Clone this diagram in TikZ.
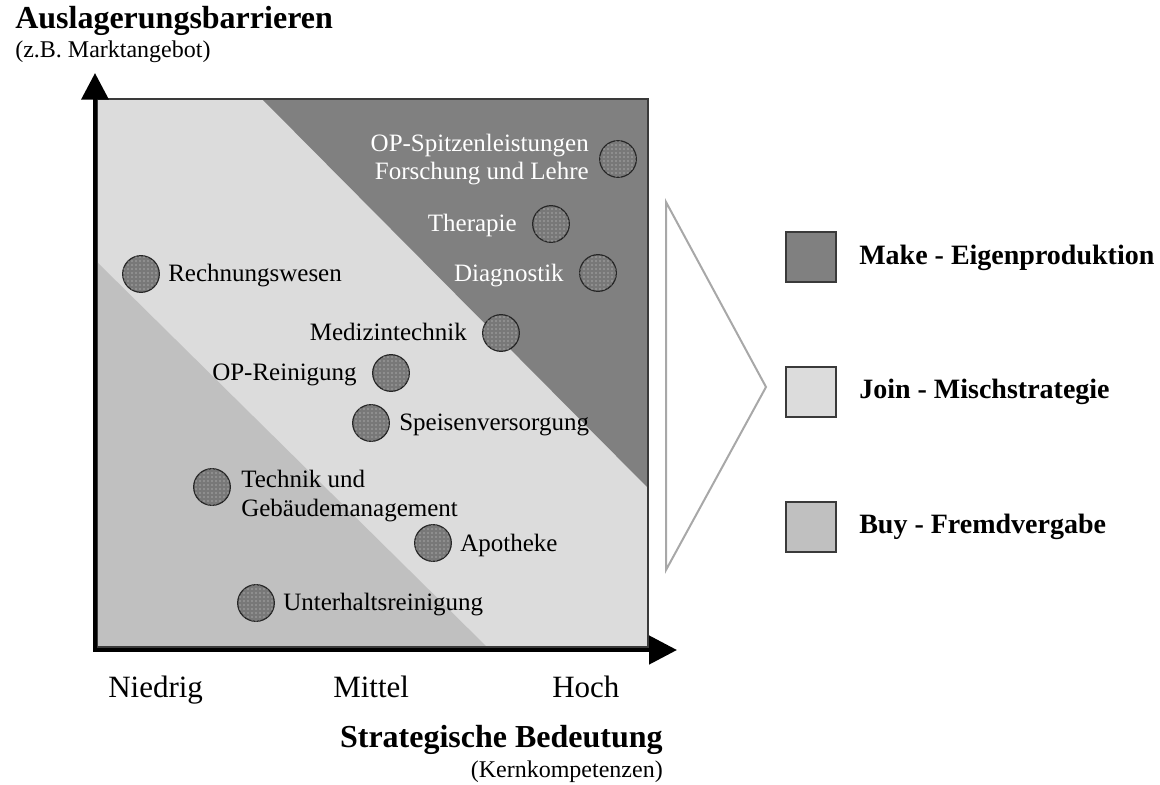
\documentclass[tikz,border=0pt]{standalone}
\usepackage{fontspec}
\setmainfont{Liberation Serif}
\usetikzlibrary{arrows.meta,patterns}

\definecolor{makegray}{HTML}{808080}
\definecolor{joingray}{HTML}{DCDCDC}
\definecolor{buygray}{HTML}{C0C0C0}
\definecolor{framegray}{HTML}{3A3A3A}
\definecolor{wedgegray}{HTML}{A8A8A8}
\definecolor{dotgray}{HTML}{787878}

\tikzset{
  item/.style={circle, draw=black!85, line width=0.9pt, fill=dotgray,
    minimum size=27.5pt, inner sep=0pt,
    postaction={pattern=dots, pattern color=white!70!gray}},
  lbl/.style={font=\fontsize{18.75}{22}\selectfont, inner sep=0pt},
  lblwhite/.style={lbl, text=white},
  scalelbl/.style={font=\fontsize{23.25}{27}\selectfont, inner sep=0pt, anchor=base west},
  axistitle/.style={font=\fontsize{24}{28}\bfseries\selectfont, inner sep=0pt},
  axissub/.style={font=\fontsize{18}{22}\selectfont, inner sep=0pt},
  legendbox/.style={draw=framegray, line width=1.2pt, minimum size=37.5pt, inner sep=0pt},
  legendtext/.style={font=\fontsize{21}{25}\bfseries\selectfont, inner sep=0pt, anchor=base west},
  axisline/.style={line width=3.5pt, line join=miter,
    {Triangle[length=20pt,width=20pt]}-{Triangle[length=21pt,width=21pt]}},
}

\begin{document}
\begin{tikzpicture}[x=0.75pt, y=-0.75pt]
\useasboundingbox (0,0) rectangle (1160,785);

% portfolio field with the three strategy zones
\fill[joingray] (97,99) rectangle (648,647);
\fill[makegray] (262,99) -- (648,99) -- (648,488) -- cycle;
\fill[buygray] (97,262) -- (97,647) -- (487,647) -- cycle;
\draw[framegray, line width=1.1pt] (97,99) rectangle (648,647);

% axes
\coordinate (origin) at (95,650);
\coordinate (ytip) at (95,73);
\coordinate (xtip) at (677,650);
\draw[axisline] (ytip) -- (origin) -- (xtip);

% axis titles
\node[axistitle, anchor=base west] (ytitle) at (15,28) {Auslagerungsbarrieren};
\node[axissub, anchor=base west] (ysub) at (15,57) {(z.B. Marktangebot)};
\node[axistitle, anchor=base east] (xtitle) at (663,747) {Strategische Bedeutung};
\node[axissub, anchor=base east] (xsub) at (663,777) {(Kernkompetenzen)};

% scale labels
\node[scalelbl] (low) at (108,697) {Niedrig};
\node[scalelbl] (mid) at (333,697) {Mittel};
\node[scalelbl] (high) at (552,697) {Hoch};

% make zone
\node[item] (c1) at (618,159) {};
\node[lblwhite, anchor=base east] (t1a) at (589,151) {OP-Spitzenleistungen};
\node[lblwhite, anchor=base east] (t1b) at (589,179) {Forschung und Lehre};
\node[item] (c2) at (551,224) {};
\node[lblwhite, anchor=base east] (t2) at (517,231) {Therapie};
\node[item] (c3) at (598,273) {};
\node[lblwhite, anchor=base east] (t3) at (564,281) {Diagnostik};

% join zone
\node[item] (c4) at (141,274) {};
\node[lbl, anchor=base west] (t4) at (168,281) {Rechnungswesen};
\node[item] (c5) at (501,333) {};
\node[lbl, anchor=base east] (t5) at (467,340) {Medizintechnik};
\node[item] (c6) at (391,373) {};
\node[lbl, anchor=base east] (t6) at (357,380) {OP-Reinigung};
\node[item] (c7) at (371,423) {};
\node[lbl, anchor=base west] (t7) at (399,430) {Speisenversorgung};
\node[item] (c8) at (433,543) {};
\node[lbl, anchor=base west] (t8) at (460,551) {Apotheke};

% buy zone
\node[item] (c9) at (212,487) {};
\node[lbl, anchor=base west] (t9a) at (241,487) {Technik und};
\node[lbl, anchor=base west] (t9b) at (241,516) {Gebäudemanagement};
\node[item] (c10) at (256,603) {};
\node[lbl, anchor=base west] (t10) at (283,610) {Unterhaltsreinigung};

% wedge pointing to the legend
\draw[wedgegray, line width=1.5pt, line join=miter] (666,202) -- (766,387) -- (666,570) -- cycle;

% legend
\node[legendbox, fill=makegray] (k1) at (811,257) {};
\node[legendtext] (l1) at (859,264) {Make - Eigenproduktion};
\node[legendbox, fill=joingray] (k2) at (811,392) {};
\node[legendtext] (l2) at (859,398) {Join - Mischstrategie};
\node[legendbox, fill=buygray] (k3) at (811,527) {};
\node[legendtext] (l3) at (859,533) {Buy - Fremdvergabe};
\end{tikzpicture}
\end{document}
